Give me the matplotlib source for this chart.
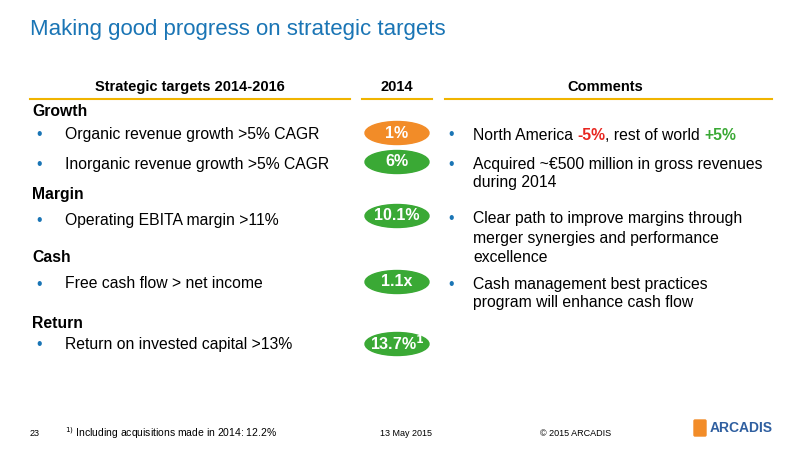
import matplotlib
matplotlib.use("Agg")
import matplotlib.pyplot as plt
from matplotlib.patches import Ellipse, FancyBboxPatch

plt.rcParams["font.family"] = ["Liberation Sans", "DejaVu Sans"]

BLUE = "#1a75b5"
GOLD = "#f0b400"
GREEN = "#3aa935"
ORANGE = "#f28c28"

# data
sections = ["Growth", "Margin", "Cash", "Return"]
section_y = [111, 195, 257, 323]
targets = ["Organic revenue growth >5% CAGR", "Inorganic revenue growth >5% CAGR",
           "Operating EBITA margin >11%", "Free cash flow > net income",
           "Return on invested capital >13%"]
target_y = [135, 164, 220, 284, 345]
values_2014 = ["1%", "6%", "10.1%", "1.1x", r"13.7%$^{\mathbf{1}}$"]
value_colors = [ORANGE, GREEN, GREEN, GREEN, GREEN]
value_y = [133, 162, 216, 282, 344]
comments = [None,
            ["Acquired ~€500 million in gross revenues", "during 2014"],
            ["Clear path to improve margins through", "merger synergies and performance", "excellence"],
            ["Cash management best practices", "program will enhance cash flow"]]
comment_y = [135, 164, 219, 284]

fig = plt.figure(figsize=(8, 4.5), dpi=100)
ax = fig.add_axes([0, 0, 1, 1])
ax.set_xlim(0, 800)
ax.set_ylim(450, 0)
ax.axis("off")

ax.text(30, 30, "Making good progress on strategic targets", color=BLUE, fontsize=16, va="center")

# header
for x, t in [(190, "Strategic targets 2014-2016"), (397, "2014"), (605, "Comments")]:
    ax.text(x, 87, t, fontsize=10.5, fontweight="bold", ha="center", va="center")
for x0, x1 in [(30, 350), (362, 432), (445, 772)]:
    ax.plot([x0, x1], [99, 99], color=GOLD, lw=1.5)

fs = 11.3
for s, y in zip(sections, section_y):
    ax.text(32, y, s, fontsize=fs, fontweight="bold", va="center")
for t, y in zip(targets, target_y):
    ax.text(36, y, "•", color=BLUE, fontsize=fs, va="center")
    ax.text(65, y, t, fontsize=fs, va="center")

for v, c, y in zip(values_2014, value_colors, value_y):
    ax.add_patch(Ellipse((397, y), 64, 23, color=c))
    ax.text(397, y, v, color="white", fontsize=11.5, fontweight="bold", ha="center", va="center")

# comments
for lines, y in zip(comments, comment_y):
    ax.text(448, y, "•", color=BLUE, fontsize=fs, va="center")
    if lines is None:
        t = ax.text(473, y + 5, "North America ", fontsize=fs, va="baseline")
        parts = [("-5%", "#e8251f", "bold"), (", rest of world ", "black", "normal"),
                 ("+5%", GREEN, "bold")]
        prev = t
        for s, c, w in parts:
            prev = ax.annotate(s, xy=(1, 0), xycoords=prev, xytext=(0, 0), textcoords="offset points",
                               fontsize=fs, color=c, fontweight=w, va="bottom", ha="left")
        continue
    for i, ln in enumerate(lines):
        ax.text(473, y + i * 19, ln, fontsize=fs, va="center")

# footer
ax.text(30, 433, "23", fontsize=6.5, va="center")
ax.text(65, 433, "$^{1)}$ Including acquisitions made in 2014: 12.2%", fontsize=7.5, va="center")
ax.text(380, 433, "13 May 2015", fontsize=6.5, va="center")
ax.text(540, 433, "© 2015 ARCADIS", fontsize=6.5, va="center")
ax.add_patch(FancyBboxPatch((695, 421), 10, 14, boxstyle="round,pad=1", color=ORANGE))
ax.text(710, 428, "ARCADIS", color="#2f5fa0", fontsize=10, fontweight="bold", va="center")

fig.savefig("out.png", dpi=100)
